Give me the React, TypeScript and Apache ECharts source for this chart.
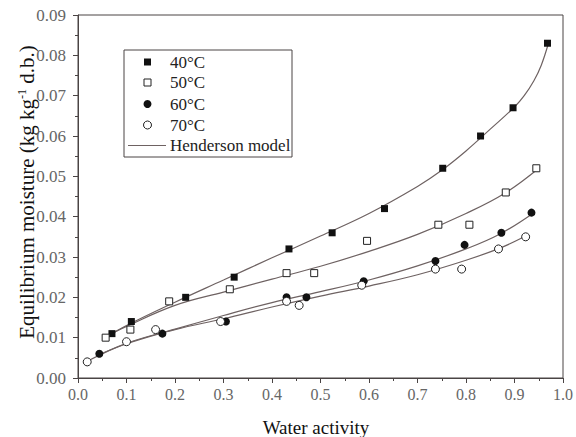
import React, { useEffect, useRef } from "react";
import * as echarts from "echarts";

const xTicks = [0, 0.1, 0.2, 0.3, 0.4, 0.5, 0.6, 0.7, 0.8, 0.9, 1.0];
const seriesNames = ["40°C", "50°C", "60°C", "70°C"];
const modelName = "Henderson model";

const obs40 = [[0.07, 0.011], [0.11, 0.014], [0.222, 0.020], [0.322, 0.025], [0.435, 0.032], [0.524, 0.036], [0.632, 0.042], [0.752, 0.052], [0.83, 0.060], [0.897, 0.067], [0.968, 0.083]];
const obs50 = [[0.057, 0.010], [0.108, 0.012], [0.188, 0.019], [0.313, 0.022], [0.43, 0.026], [0.487, 0.026], [0.596, 0.034], [0.743, 0.038], [0.807, 0.038], [0.882, 0.046], [0.945, 0.052]];
const obs60 = [[0.044, 0.006], [0.174, 0.011], [0.305, 0.014], [0.43, 0.020], [0.471, 0.020], [0.589, 0.024], [0.737, 0.029], [0.797, 0.033], [0.873, 0.036], [0.935, 0.041]];
const obs70 = [[0.019, 0.004], [0.10, 0.009], [0.16, 0.012], [0.294, 0.014], [0.43, 0.019], [0.456, 0.018], [0.585, 0.023], [0.737, 0.027], [0.791, 0.027], [0.867, 0.032], [0.923, 0.035]];

const fit40 = [[0.065, 0.0105], [0.1, 0.0130], [0.2, 0.0188], [0.3, 0.0243], [0.4, 0.0298], [0.5, 0.0352], [0.6, 0.0408], [0.7, 0.0475], [0.75, 0.0515], [0.8, 0.0563], [0.85, 0.0617], [0.9, 0.0672], [0.92, 0.0700], [0.94, 0.0737], [0.955, 0.0775], [0.97, 0.083]];
const fit50 = [[0.055, 0.0102], [0.1, 0.0128], [0.2, 0.0180], [0.3, 0.0213], [0.4, 0.0245], [0.5, 0.0277], [0.6, 0.0314], [0.7, 0.0356], [0.8, 0.0408], [0.88, 0.0458], [0.95, 0.052]];
const fit60 = [[0.042, 0.0057], [0.1, 0.0085], [0.2, 0.0121], [0.3, 0.0155], [0.4, 0.0187], [0.5, 0.0214], [0.6, 0.0243], [0.7, 0.0278], [0.8, 0.0320], [0.87, 0.0357], [0.94, 0.041]];
const fit70 = [[0.02, 0.0042], [0.1, 0.0086], [0.2, 0.0120], [0.3, 0.0147], [0.4, 0.0176], [0.5, 0.0203], [0.6, 0.0228], [0.7, 0.0256], [0.8, 0.0292], [0.87, 0.0322], [0.92, 0.035]];

const FONT = "Liberation Serif";
const AXIS_COLOR = "#4a4444";
const LINE_COLOR = "#6e6262";
const LABEL_COLOR = "#666666";

export default function App() {
  const ref = useRef<HTMLDivElement>(null);
  useEffect(() => {
    if (!ref.current) return;
    const chart = echarts.init(ref.current, undefined, { renderer: "svg" });
    const fitLine = (data: number[][]) => ({
      type: "line",
      data,
      smooth: 0.4,
      symbol: "none",
      lineStyle: { color: LINE_COLOR, width: 1.2 },
      silent: true,
      z: 1,
    });
    const scat = (name: string, data: number[][], symbol: string, filled: boolean, size: number) => ({
      type: "scatter",
      name,
      data,
      symbol,
      symbolSize: size,
      itemStyle: {
        color: filled ? "#111" : "#fff",
        borderColor: "#222",
        borderWidth: filled ? 0 : 1,
        opacity: 1,
      },
      z: 3,
    });
    const legendRows = [
      { y: 62, symbol: "rect", filled: true },
      { y: 82.5, symbol: "rect", filled: false },
      { y: 104, symbol: "circle", filled: true },
      { y: 125, symbol: "circle", filled: false },
    ];
    const legendGraphics: any[] = [
      { type: "rect", shape: { x: 124, y: 50, width: 168, height: 107 }, style: { fill: "#fff", stroke: AXIS_COLOR, lineWidth: 1 }, z: 10 },
    ];
    legendRows.forEach((r, i) => {
      if (r.symbol === "rect") {
        legendGraphics.push({ type: "rect", shape: { x: 144, y: r.y - 3.5, width: 7, height: 7 }, style: { fill: r.filled ? "#111" : "#fff", stroke: "#222", lineWidth: r.filled ? 0 : 1 }, z: 11 });
      } else {
        legendGraphics.push({ type: "circle", shape: { cx: 147.5, cy: r.y, r: 4 }, style: { fill: r.filled ? "#111" : "#fff", stroke: "#222", lineWidth: r.filled ? 0 : 1 }, z: 11 });
      }
      legendGraphics.push({ type: "text", x: 170, y: r.y, style: { text: seriesNames[i], fontFamily: FONT, fontSize: 17, fill: "#222", verticalAlign: "middle", align: "left" }, z: 11 });
    });
    legendGraphics.push({ type: "line", shape: { x1: 128, y1: 145.5, x2: 166, y2: 145.5 }, style: { stroke: LINE_COLOR, lineWidth: 1.2 }, z: 11 });
    legendGraphics.push({ type: "text", x: 170, y: 145.5, style: { text: modelName, fontFamily: FONT, fontSize: 17, fill: "#222", verticalAlign: "middle", align: "left" }, z: 11 });

    const option: any = {
      animation: false,
      backgroundColor: "#fff",
      textStyle: { fontFamily: FONT },
      grid: { left: 78, right: 11, top: 15, bottom: 59, show: true, borderColor: AXIS_COLOR, borderWidth: 1, containLabel: false },
      xAxis: {
        type: "value",
        min: 0,
        max: 1,
        interval: 0.1,
        axisLine: { show: true, onZero: false, lineStyle: { color: AXIS_COLOR, width: 1 } },
        axisTick: { show: true, inside: false, length: 5, lineStyle: { color: AXIS_COLOR } },
        minorTick: { show: true, splitNumber: 2, length: 3, lineStyle: { color: AXIS_COLOR } },
        splitLine: { show: false },
        axisLabel: { margin: 8, color: LABEL_COLOR, fontFamily: FONT, fontSize: 16, formatter: (v: number) => v.toFixed(1) },
      },
      yAxis: {
        type: "value",
        min: 0,
        max: 0.09,
        interval: 0.01,
        axisLine: { show: true, onZero: false, lineStyle: { color: AXIS_COLOR, width: 1 } },
        axisTick: { show: true, inside: false, length: 5, lineStyle: { color: AXIS_COLOR } },
        minorTick: { show: true, splitNumber: 2, length: 3, lineStyle: { color: AXIS_COLOR } },
        splitLine: { show: false },
        axisLabel: { margin: 12, color: LABEL_COLOR, fontFamily: FONT, fontSize: 17, formatter: (v: number) => v.toFixed(2) },
      },
      graphic: [
        ...legendGraphics,
        {
          type: "text",
          x: 316,
          y: 427,
          style: { text: "Water activity", fontFamily: FONT, fontSize: 19, fill: "#111", align: "center", verticalAlign: "middle" },
        },
        {
          type: "text",
          x: 27,
          y: 192,
          rotation: Math.PI / 2,
          style: {
            text: "{a|Equilibrium moisture (kg kg}{s|-1}{a| d.b.)}",
            align: "center",
            verticalAlign: "middle",
            fill: "#111",
            rich: {
              a: { fontFamily: FONT, fontSize: 21, fill: "#111", lineHeight: 23 },
              s: { fontFamily: FONT, fontSize: 12, fill: "#111", verticalAlign: "top", lineHeight: 23 },
            },
          },
        },
      ],
      series: [
        fitLine(fit40),
        fitLine(fit50),
        fitLine(fit60),
        fitLine(fit70),
        scat(seriesNames[0], obs40, "rect", true, 7),
        scat(seriesNames[1], obs50, "rect", false, 7),
        scat(seriesNames[2], obs60, "circle", true, 8),
        scat(seriesNames[3], obs70, "circle", false, 8),
      ],
    };
    chart.setOption(option);
    return () => chart.dispose();
  }, []);
  return <div ref={ref} style={{ width: 576, height: 437, position: "absolute", left: 0, top: 0 }} />;
}
